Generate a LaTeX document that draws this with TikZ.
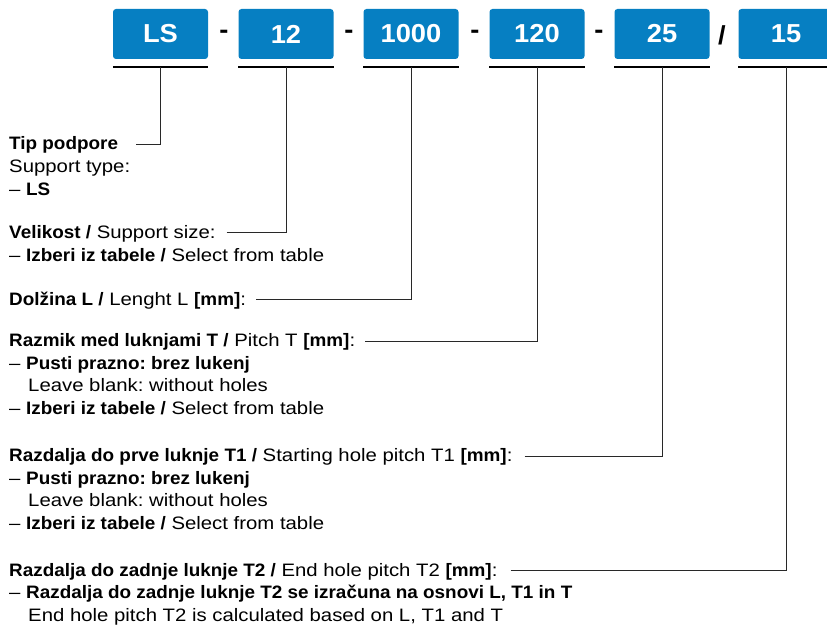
\documentclass[tikz,border=0pt]{standalone}
\usepackage{fontspec}
\setmainfont{Liberation Sans}[FakeStretch=1.13, BoldFeatures={FakeStretch=1.05}]
\frenchspacing
\definecolor{boxblue}{RGB}{6,127,194}
\definecolor{linegray}{RGB}{40,40,40}
\begin{document}
\begin{tikzpicture}[x=1pt,y=-1pt,
  codebox/.style={fill=boxblue, rounded corners=3pt, minimum width=95pt, minimum height=50pt,
    inner sep=0pt, text=white, font=\fontsize{26}{26}\selectfont\bfseries},
  sepmark/.style={anchor=base, inner sep=0pt, font=\fontsize{26}{26}\selectfont\bfseries},
  txt/.style={anchor=base west, inner sep=0pt, font=\fontsize{18}{22}\selectfont},
  uline/.style={line width=2pt, black},
  conn/.style={line width=1pt, linegray}]
\useasboundingbox (0,0) rectangle (827,628);
\clip (0,0) rectangle (827,628);
% code boxes
\node[codebox] (b1) at (160.5,34) {LS};
\node[codebox] (b2) at (286,34) {12};
\node[codebox] (b3) at (411,34) {1000};
\node[codebox] (b4) at (537,34) {120};
\node[codebox] (b5) at (662,34) {25};
\node[codebox] (b6) at (786,34) {15};
% separators
\node[sepmark] (s1) at (224,39) {-};
\node[sepmark] (s2) at (349,39) {-};
\node[sepmark] (s3) at (475,39) {-};
\node[sepmark] (s4) at (599,39) {-};
\node[sepmark] (s5) at (722,45) {/};
% underlines
\foreach \b in {b1,b2,b3,b4,b5,b6}{
  \draw[uline] ([yshift=-8pt]\b.south west) -- ([yshift=-8pt]\b.south east);
}
% texts
\node[txt] (tip) at (9,150) {\textbf{Tip podpore}};
\node[txt] (st) at (9,172.7) {Support type:};
\node[txt] (ls) at (9,195.4) {– \textbf{LS}};
\node[txt] (vel) at (9,238.5) {\textbf{Velikost /} Support size:};
\node[txt] (vel1) at (9,261.2) {– \textbf{Izberi iz tabele /} Select from table};
\node[txt] (dol) at (9,305.5) {\textbf{Dolžina L /} Lenght L \textbf{[mm]}:};
\node[txt] (raz) at (9,346.5) {\textbf{Razmik med luknjami T /} Pitch T \textbf{[mm]}:};
\node[txt] (raz1) at (9,369.2) {– \textbf{Pusti prazno: brez lukenj}};
\node[txt] (raz2) at (28,391.9) {Leave blank: without holes};
\node[txt] (raz3) at (9,414.6) {– \textbf{Izberi iz tabele /} Select from table};
\node[txt] (ta) at (9,461.5) {\textbf{Razdalja do prve luknje T1 /} Starting hole pitch T1 \textbf{[mm]}:};
\node[txt] (ta1) at (9,484.2) {– \textbf{Pusti prazno: brez lukenj}};
\node[txt] (ta2) at (28,506.9) {Leave blank: without holes};
\node[txt] (ta3) at (9,529.6) {– \textbf{Izberi iz tabele /} Select from table};
\node[txt] (tb) at (9,576) {\textbf{Razdalja do zadnje luknje T2 /} End hole pitch T2 \textbf{[mm]}:};
\node[txt] (tb1) at (9,598.7) {– \textbf{Razdalja do zadnje luknje T2 se izračuna na osnovi L, T1 in T}};
\node[txt] (tb2) at (28,621) {End hole pitch T2 is calculated based on L, T1 and T};
% connectors
\draw[conn] ([xshift=18pt,yshift=5.5pt]tip.base east) -| ([yshift=-8pt]b1.south);
\draw[conn] ([xshift=11pt,yshift=5.5pt]vel.base east) -| ([yshift=-8pt]b2.south);
\draw[conn] ([xshift=10pt,yshift=5.5pt]dol.base east) -| ([yshift=-8pt]b3.south);
\draw[conn] ([xshift=10pt,yshift=5.5pt]raz.base east) -| ([yshift=-8pt]b4.south);
\draw[conn] ([xshift=12pt,yshift=5.5pt]ta.base east) -| ([yshift=-8pt]b5.south);
\draw[conn] ([xshift=13pt,yshift=5.5pt]tb.base east) -| ([yshift=-8pt]b6.south);
\end{tikzpicture}
\end{document}
